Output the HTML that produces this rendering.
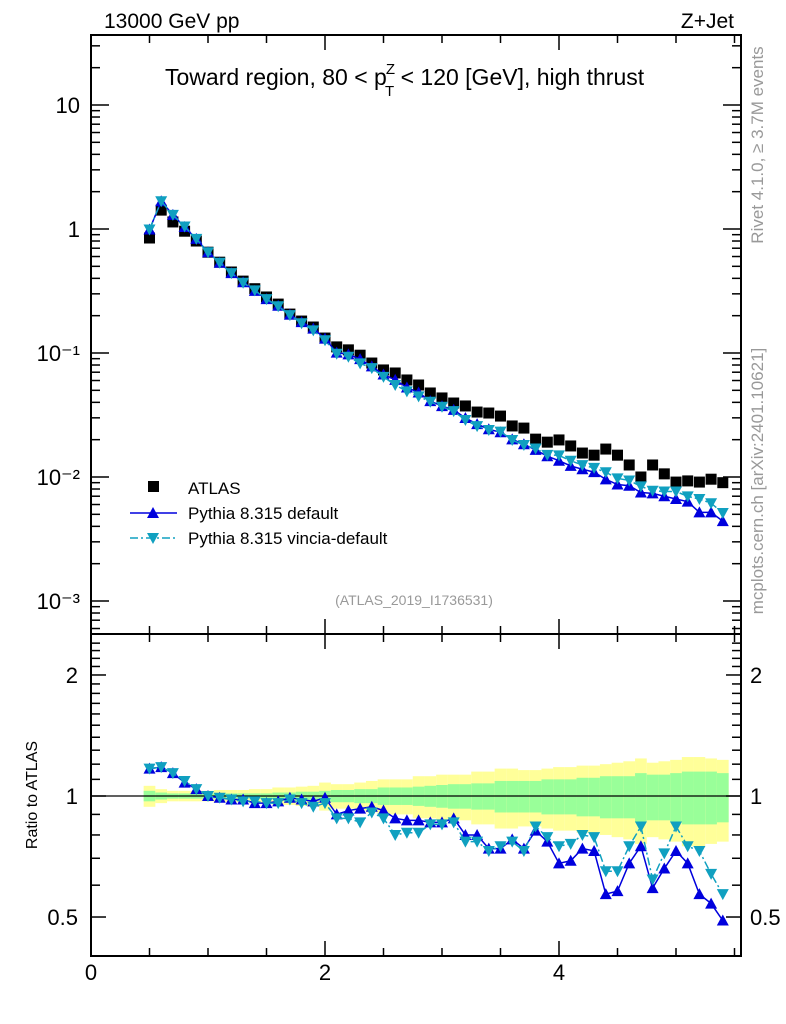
<!DOCTYPE html>
<html><head><meta charset="utf-8"><style>
body{margin:0;background:#fff;}
svg{display:block;font-family:"Liberation Sans",sans-serif;}
</style></head><body>
<svg id="c" width="786" height="1024" viewBox="0 0 786 1024"></svg>
<script>
const xCenters=[0.5,0.6,0.7,0.8,0.9,1.0,1.1,1.2,1.3,1.4,1.5,1.6,1.7,1.8,1.9,2.0,2.1,2.2,2.3,2.4,2.5,2.6,2.7,2.8,2.9,3.0,3.1,3.2,3.3,3.4,3.5,3.6,3.7,3.8,3.9,4.0,4.1,4.2,4.3,4.4,4.5,4.6,4.7,4.8,4.9,5.0,5.1,5.2,5.3,5.4];
const atlasValues=[0.846,1.42,1.14,0.96,0.80,0.65,0.54,0.45,0.38,0.33,0.283,0.248,0.206,0.181,0.162,0.132,0.112,0.106,0.096,0.083,0.073,0.069,0.0606,0.0552,0.0476,0.0434,0.0395,0.0374,0.0334,0.0328,0.031,0.0258,0.0248,0.0202,0.0191,0.0199,0.0178,0.0156,0.0150,0.0168,0.0150,0.0125,0.0100,0.0125,0.0106,0.0091,0.0093,0.0091,0.0096,0.0090];
const ratioDefault=[1.17,1.18,1.14,1.08,1.04,1.0,0.99,0.98,0.98,0.96,0.96,0.97,0.99,0.98,0.97,0.99,0.9,0.92,0.93,0.94,0.92,0.88,0.87,0.87,0.86,0.86,0.88,0.80,0.80,0.74,0.74,0.78,0.74,0.82,0.77,0.68,0.69,0.74,0.73,0.57,0.58,0.68,0.75,0.59,0.66,0.73,0.68,0.57,0.54,0.49];
const ratioVincia=[1.17,1.18,1.14,1.09,1.04,1.0,0.99,0.98,0.97,0.97,0.96,0.96,0.98,0.96,0.94,0.96,0.88,0.88,0.86,0.91,0.88,0.80,0.81,0.81,0.85,0.85,0.86,0.77,0.77,0.73,0.75,0.77,0.73,0.84,0.79,0.75,0.76,0.80,0.79,0.65,0.65,0.75,0.84,0.62,0.72,0.84,0.75,0.73,0.64,0.57];
const greenErr=[0.03,0.02,0.015,0.015,0.015,0.015,0.015,0.015,0.015,0.015,0.015,0.02,0.02,0.025,0.025,0.03,0.035,0.035,0.04,0.04,0.05,0.05,0.05,0.055,0.06,0.065,0.07,0.07,0.075,0.075,0.09,0.09,0.09,0.09,0.10,0.10,0.10,0.11,0.11,0.12,0.12,0.12,0.14,0.13,0.13,0.14,0.15,0.15,0.15,0.14];
const yellowErr=[0.06,0.04,0.03,0.03,0.03,0.03,0.035,0.035,0.035,0.04,0.04,0.05,0.05,0.055,0.06,0.08,0.07,0.07,0.08,0.09,0.10,0.10,0.10,0.12,0.12,0.13,0.13,0.13,0.15,0.15,0.17,0.17,0.16,0.16,0.17,0.18,0.18,0.19,0.19,0.20,0.21,0.22,0.24,0.21,0.22,0.23,0.25,0.25,0.24,0.23];
const xTickLabels=[0,2,4];
const mainTickLabels=[["10",1],["1",0],["10⁻¹",-1],["10⁻²",-2],["10⁻³",-3]];
const ratioTickLabels=[2,1,0.5];

const L=91,R=741,T=35,MB=634,RB=956;
const sx=v=>L+v*117;
const sy=v=>229-124*Math.log10(v);
const ry=v=>796-402*Math.log10(v);
const svg=document.getElementById('c');
const NS='http://www.w3.org/2000/svg';
function mk(tag,attrs,parent){const e=document.createElementNS(NS,tag);for(const k in attrs)e.setAttribute(k,attrs[k]);(parent||svg).appendChild(e);return e;}
function txt(s,attrs,parent){const e=mk('text',attrs,parent);e.textContent=s;return e;}

const bands=mk('g',{});


xCenters.forEach((x,i)=>{
  const x0=sx(x-0.05),w=sx(x+0.05)-x0;
  const y1=mk('rect',{x:x0,y:ry(1+yellowErr[i]),width:w,height:ry(1-yellowErr[i])-ry(1+yellowErr[i]),fill:'#ffff99'},bands);
  
  
  const g1=mk('rect',{x:x0,y:ry(1+greenErr[i]),width:w,height:ry(1-greenErr[i])-ry(1+greenErr[i]),fill:'#99ff99'},bands);
  
  
});
mk('line',{x1:L,x2:R,y1:ry(1),y2:ry(1),stroke:'#000','stroke-width':1.2});

const f1=mk('rect',{x:L,y:T,width:R-L,height:MB-T,fill:'none',stroke:'#000','stroke-width':2});

const f2=mk('rect',{x:L,y:MB,width:R-L,height:RB-MB,fill:'none',stroke:'#000','stroke-width':2});


for(let v=0;v<=5.5;v+=0.5){
  const big=(Math.abs(v%2)<1e-9);
  const len=big?15:8;
  [[T,1],[MB,-1],[MB,1],[RB,-1]].forEach(([y,d])=>mk('line',{x1:sx(v),x2:sx(v),y1:y,y2:y+d*len,stroke:'#000','stroke-width':1.5}));
}
xTickLabels.forEach(v=>{const t=txt(String(v),{x:sx(v),y:980,'font-size':22,'text-anchor':'middle'});});

for(let d=-4;d<=1;d++){for(let m=1;m<10;m++){const v=m*Math.pow(10,d);const y=sy(v);if(y<T||y>MB)continue;const len=m===1?18:9;
  mk('line',{x1:L,x2:L+len,y1:y,y2:y,stroke:'#000','stroke-width':1.5});mk('line',{x1:R,x2:R-len,y1:y,y2:y,stroke:'#000','stroke-width':1.5});}}
mainTickLabels.forEach(([s,e])=>{const t=txt(s,{x:80,y:sy(Math.pow(10,e))+8,'font-size':22,'text-anchor':'end'});});

[0.5,0.6,0.7,0.8,0.9,1,1.1,1.2,1.3,1.4,1.5,1.6,1.7,1.8,1.9,2,2.1,2.2,2.3,2.4].forEach(v=>{const y=ry(v);if(y<MB||y>RB)return;const len=[0.5,1,2].includes(v)?15:9;
  mk('line',{x1:L,x2:L+len,y1:y,y2:y,stroke:'#000','stroke-width':1.5});mk('line',{x1:R,x2:R-len,y1:y,y2:y,stroke:'#000','stroke-width':1.5});});
ratioTickLabels.forEach(v=>{
  const a=txt(String(v),{x:78,y:ry(v)+8,'font-size':22,'text-anchor':'end'});
  const b=txt(String(v),{x:750,y:ry(v)+8,'font-size':22});
});

function up(x,y,c,g){mk('polygon',{points:`${x-6},${y+5} ${x+6},${y+5} ${x},${y-6}`,fill:c},g);}
function down(x,y,c,g){mk('polygon',{points:`${x-6},${y-5} ${x+6},${y-5} ${x},${y+6}`,fill:c},g);}

const defMain=atlasValues.map((a,i)=>a*ratioDefault[i]);
const vinMain=atlasValues.map((a,i)=>a*ratioVincia[i]);
const gA=mk('g',{});
xCenters.forEach((x,i)=>mk('rect',{x:sx(x)-5.5,y:sy(atlasValues[i])-5.5,width:11,height:11,fill:'#000'},gA));
function series(vals,yf,color,dash,shape,name){
  const g=mk('g',{});
  mk('polyline',{points:xCenters.map((x,i)=>sx(x)+','+yf(vals[i])).join(' '),fill:'none',stroke:color,'stroke-width':1.5,'stroke-dasharray':dash},g);
  xCenters.forEach((x,i)=>shape(sx(x),yf(vals[i]),color,g));
}
series(defMain,sy,'#0000dd','none',up,'pythia-default-series');
series(vinMain,sy,'#10a0c0','8,3,2,3',down,'pythia-vincia-series');
series(ratioDefault,ry,'#0000dd','none',up,'pythia-default-ratio');
series(ratioVincia,ry,'#10a0c0','8,3,2,3',down,'pythia-vincia-ratio');

const lg=mk('g',{});
mk('rect',{x:148,y:481,width:11,height:11,fill:'#000'},lg);
txt('ATLAS',{x:188,y:494,'font-size':17},lg);
mk('line',{x1:130,x2:177,y1:513,y2:513,stroke:'#0000dd','stroke-width':1.5},lg);up(153,513,'#0000dd',lg);
txt('Pythia 8.315 default',{x:188,y:519,'font-size':17},lg);
mk('line',{x1:130,x2:177,y1:538,y2:538,stroke:'#10a0c0','stroke-width':1.5,'stroke-dasharray':'8,3,2,3'},lg);down(153,538,'#10a0c0',lg);
txt('Pythia 8.315 vincia-default',{x:188,y:544,'font-size':17},lg);

const t1=txt('13000 GeV pp',{x:104,y:28,'font-size':21});
const t2=txt('Z+Jet',{x:734,y:28,'font-size':21,'text-anchor':'end'});
const t3=txt('',{x:165,y:85,'font-size':23});
t3.innerHTML='Toward region, 80 &lt; p<tspan font-size="15" dx="-1" dy="-11">Z</tspan><tspan font-size="15" dx="-10" dy="22">T</tspan><tspan dy="-11"> &lt; 120 [GeV], high thrust</tspan>';
const t4=txt('(ATLAS_2019_I1736531)',{x:414,y:605,'font-size':14,fill:'#999','text-anchor':'middle'});
const t5=txt('Ratio to ATLAS',{x:0,y:0,'font-size':16,'text-anchor':'middle',transform:'translate(37,795) rotate(-90)'});
const t6=txt('Rivet 4.1.0, ≥ 3.7M events',{x:0,y:0,'font-size':17,fill:'#999','text-anchor':'middle',transform:'translate(763,145) rotate(-90)'});
const t7=txt('mcplots.cern.ch [arXiv:2401.10621]',{x:0,y:0,'font-size':17,fill:'#999','text-anchor':'middle',transform:'translate(763,481) rotate(-90)'});
</script>
</body></html>
